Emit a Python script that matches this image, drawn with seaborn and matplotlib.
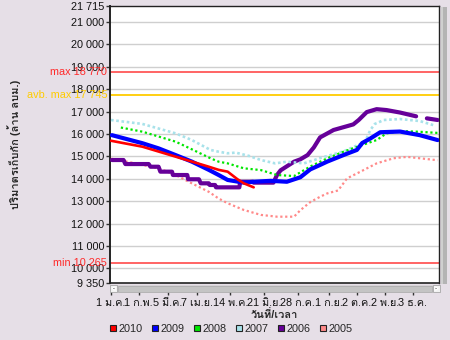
import numpy as np
import pandas as pd
import matplotlib
matplotlib.use("Agg")
import matplotlib.pyplot as plt
from matplotlib.patches import Rectangle, Polygon
from matplotlib.lines import Line2D
from matplotlib import font_manager as fm
from matplotlib.ft2font import FT2Font
import seaborn as sns

# ---------------- data (day of year, storage in million m3) ----------------
days_2010 = [0, 35, 72, 109, 120, 130, 141, 148, 159]
vals_2010 = [15700, 15435, 14990, 14540, 14400, 14320, 13980, 13800, 13620]

days_2009 = [1, 35, 53, 72, 90, 109, 120, 130, 148, 159, 178, 196, 211, 222, 233,
             241, 259, 274, 280, 289, 300, 322, 344, 364]
vals_2009 = [15950, 15590, 15360, 15060, 14770, 14400, 14170, 13950, 13830, 13870,
             13910, 13870, 14070, 14420, 14620, 14770, 15060, 15290, 15600, 15800,
             16080, 16110, 15950, 15730]

days_2008 = [11, 35, 72, 90, 111, 120, 130, 148, 167, 185, 204, 222, 241, 259, 280,
             296, 307, 322, 344, 364]
vals_2008 = [16290, 16105, 15660, 15320, 14915, 14765, 14690, 14470, 14390, 14170,
             14125, 14550, 14915, 15210, 15510, 15730, 16030, 16135, 16100, 16050]

days_2007 = [0, 35, 72, 90, 111, 120, 130, 139, 154, 167, 183, 196, 215, 235, 259,
             283, 289, 294, 304, 322, 344, 359]
vals_2007 = [16626, 16450, 16030, 15733, 15287, 15210, 15140, 15170, 15020, 14840,
             14690, 14765, 14690, 14950, 15220, 15650, 16180, 16450, 16626, 16670,
             16580, 16400]

days_2006 = [1, 14, 16, 42, 44, 53, 55, 68, 69, 85, 86, 98, 100, 109, 110, 116, 117,
             143, 144, 158, 159, 181, 185, 189, 204, 211, 219, 226, 233, 248, 263,
             270, 276, 285, 296, 307, 322, 340, 352, 364]
vals_2006 = [14840, 14840, 14660, 14660, 14540, 14540, 14320, 14320, 14170, 14170,
             13980, 13980, 13800, 13800, 13725, 13725, 13620, 13620, 13870, 13870,
             13830, 13830, 14170, 14380, 14765, 14870, 15060, 15400, 15850, 16180,
             16350, 16430, 16626, 16980, 17110, 17070, 16960, 16790, 16700, 16626]
gap_2006 = (340, 352)

days_2005 = [0, 20, 35, 53, 72, 90, 109, 120, 130, 148, 167, 185, 204, 211, 222, 233,
             241, 253, 259, 263, 278, 296, 315, 330, 364]
vals_2005 = [14900, 14750, 14620, 14470, 14170, 13800, 13420, 13120, 12910, 12610,
             12390, 12310, 12310, 12600, 12960, 13200, 13350, 13480, 13800, 14020,
             14320, 14690, 14920, 14980, 14830]

x_tick_days = [0, 31, 63, 96, 133, 171, 208, 243, 274, 305, 336]
x_tick_labels = ["1 ม.ค.", "1 ก.พ.", "5 มี.ค.", "7 เม.ย.", "14 พ.ค.", "21 มิ.ย.",
                 "28 ก.ค.", "1 ก.ย.", "2 ต.ค.", "2 พ.ย.", "3 ธ.ค."]
y_ticks = [9350, 10000, 11000, 12000, 13000, 14000, 15000, 16000, 17000, 18000,
           19000, 20000, 21000, 21715]
ref_max = 18770
ref_avg_max = 17745
ref_min = 10265

# ---------------- fonts ----------------
thai = []
for f in fm.fontManager.ttflist:
    try:
        if FT2Font(f.fname).get_char_index(ord("ก")):
            if f.name not in thai:
                thai.append(f.name)
    except Exception:
        pass

sns.set_theme(style="white")
fams = ["Liberation Sans"] + thai[:2] + ["DejaVu Sans"]
plt.rcParams["font.family"] = fams

BG = "#e6dfe7"
fig = plt.figure(figsize=(4.5, 3.4), dpi=100, facecolor=BG)
W, H = 450, 340
ax = fig.add_axes([110 / W, 1 - 283 / H, (439 - 110) / W, (283 - 6) / H])
ax.set_facecolor("white")

# grid
for v in y_ticks[1:-1]:
    ax.axhline(v, color="#cfcfcf", lw=1.0, zorder=0)

# reference lines
ax.axhline(ref_max, color="#ff3b3b", lw=1.1, zorder=1)
ax.axhline(ref_avg_max, color="#ffcc00", lw=1.3, zorder=1)
ax.axhline(ref_min, color="#ff3b3b", lw=1.1, zorder=1)

series = [
    ("2005", days_2005, vals_2005, "#ff8a8a", 1.6, (0, (1, 1.2))),
    ("2006", days_2006, vals_2006, "#660099", 3.0, "-"),
    ("2007", days_2007, vals_2007, "#a8e2ea", 1.9, (0, (1, 1.0))),
    ("2008", days_2008, vals_2008, "#00e600", 1.6, (0, (1, 1.2))),
    ("2009", days_2009, vals_2009, "#0000ff", 3.0, "-"),
    ("2010", days_2010, vals_2010, "#ff0000", 1.9, "-"),
]

for name, d, v, c, lw, ls in series:
    df = pd.DataFrame({"day": d, "val": v})
    parts = [df]
    if name == "2006":
        parts = [df[df.day <= gap_2006[0]], df[df.day >= gap_2006[1]]]
    for p in parts:
        sns.lineplot(data=p, x="day", y="val", ax=ax, color=c, lw=lw,
                     linestyle=ls, estimator=None, sort=False, legend=False,
                     zorder=3)

ax.set_xlim(-1.1, 365.5)
ax.set_ylim(9350, 21715)

# y axis
ax.set_yticks(y_ticks)
ax.set_yticklabels([f"{v:,}".replace(",", " ") for v in y_ticks])
ax.tick_params(axis="y", direction="out", length=3, width=1, color="#333333",
               pad=1, labelsize=7.8, labelcolor="#111111", left=True)

# x axis (ticks below scrollbar)
ax.set_xticks(x_tick_days)
ax.set_xticklabels(x_tick_labels)
ax.spines["bottom"].set_position(("outward", 6.8))
ax.spines["bottom"].set_color("none")
ax.tick_params(axis="x", direction="out", length=2.5, width=1, color="#333333",
               pad=1.5, labelsize=7.8, labelcolor="#111111", bottom=True)
ax.plot([0, 1], [0, 0], transform=ax.transAxes, color="#222222", lw=1.2,
        clip_on=False, zorder=5)
for s in ["left", "top", "right"]:
    ax.spines[s].set_color("#222222")
    ax.spines[s].set_linewidth(1.0)
ax.spines["left"].set_linewidth(1.4)

ax.set_xlabel("วันที่/เวลา", fontsize=8, fontweight="bold", labelpad=1)
ax.set_ylabel("ปริมาตรเก็บกัก (ล้าน ลบม.)", fontsize=8, fontweight="bold",
              labelpad=4)
ax.yaxis.set_label_coords(-0.272, 0.5)

# reference annotations
tr = ax.get_yaxis_transform()
ax.text(-0.008, ref_max, "max 18 770", color="#ff2a2a", fontsize=7.8,
        ha="right", va="center", transform=tr, clip_on=False)
ax.text(-0.008, ref_avg_max, "avb. max 17 745", color="#ffcc00", fontsize=7.8,
        ha="right", va="center", transform=tr, clip_on=False)
ax.text(-0.008, ref_min, "min 10 265", color="#ff2a2a", fontsize=7.8,
        ha="right", va="center", transform=tr, clip_on=False)

# scrollbars (decorative)
def frect(x0, y0, x1, y1, fc, ec="none", lw=0.0):
    fig.add_artist(Rectangle((x0 / W, 1 - y1 / H), (x1 - x0) / W, (y1 - y0) / H,
                             transform=fig.transFigure, facecolor=fc,
                             edgecolor=ec, lw=lw))

frect(110, 285, 440, 292, "#d8d4d8")
frect(118, 285.5, 432, 291.5, "#c4c4c4", "#a8a8a8", 0.5)
frect(110, 285, 117, 292, "#f2f2f2", "#999999", 0.5)
frect(433, 285, 440, 292, "#f2f2f2", "#999999", 0.5)
fig.add_artist(Polygon([(112 / W, 1 - 288.5 / H), (115 / W, 1 - 286.5 / H),
                        (115 / W, 1 - 290.5 / H)], transform=fig.transFigure,
                       facecolor="black"))
fig.add_artist(Polygon([(438 / W, 1 - 288.5 / H), (435 / W, 1 - 286.5 / H),
                        (435 / W, 1 - 290.5 / H)], transform=fig.transFigure,
                       facecolor="black"))
frect(441, 7, 447, 284, "#b4b4b4")
frect(441, 7, 442.5, 284, "#d0d0d0")

# legend
handles = [Line2D([], [], ls="none", marker="s", markersize=4,
                  markerfacecolor=c, markeredgecolor="#222222",
                  markeredgewidth=0.8, label=n)
           for n, _, _, c, _, _ in reversed(series)]
fig.legend(handles=handles, loc="center", bbox_to_anchor=(231 / W, 1 - 329 / H),
           ncol=6, frameon=False, fontsize=7.8, handlelength=0.6,
           handletextpad=0.2, columnspacing=0.85, borderpad=0)

fig.savefig("out.png", dpi=100, facecolor=BG)
